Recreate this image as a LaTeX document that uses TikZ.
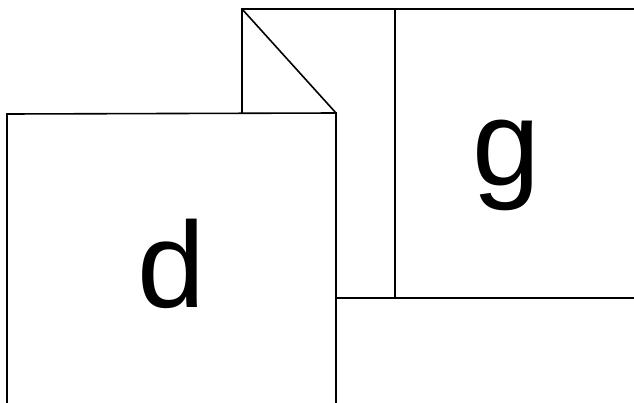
\documentclass[tikz,border=0pt]{standalone}
\usepackage{fontspec}
\setmainfont{Liberation Sans}
\begin{document}
\begin{tikzpicture}[x=1pt,y=-1pt,
  edge/.style={line width=1.6pt,line cap=rect,black},
  letter/.style={inner sep=0pt,anchor=base,font=\fontsize{122}{122}\selectfont}]
\useasboundingbox (0,0) rectangle (634,402);
% back sheet
\coordinate (bTL) at (242,9);
\coordinate (bTR) at (634,9);
\coordinate (bFold) at (242,113);
\coordinate (fTR) at (336,113);
\coordinate (mT) at (395,9);
\coordinate (mB) at (395,298);
\coordinate (bBL) at (336,298);
\coordinate (bBR) at (634,298);
\draw[edge] (bTR) -- (bTL) -- (bFold);
\draw[edge] (bTL) -- (fTR);
\draw[edge] (mT) -- (mB);
\draw[edge] (bBL) -- (bBR);
% front sheet
\coordinate (fTL) at (7,114);
\coordinate (fBL) at (7,402);
\coordinate (fBR) at (336,402);
\draw[edge] (fBL) -- (fTL) -- (fTR) -- (fBR);
% letters
\node[letter] (d) at (171,307) {d};
\node[letter] (g) at (506,185) {g};
\end{tikzpicture}
\end{document}
